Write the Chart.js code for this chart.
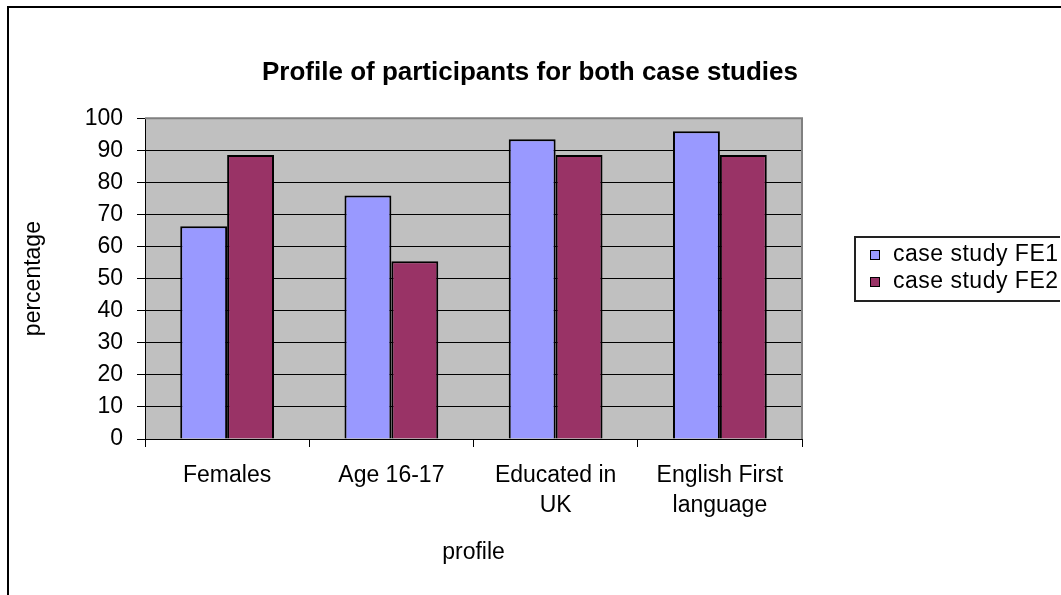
<!DOCTYPE html>
<html>
<head>
<meta charset="utf-8">
<title>Profile of participants for both case studies</title>
<script src="https://cdn.jsdelivr.net/npm/chart.js@4.4.1/dist/chart.umd.min.js"></script>
<style>
  html, body { margin: 0; padding: 0; background: #fff; overflow: hidden; }
  body { width: 1061px; height: 595px; position: relative; }
  #chart { position: absolute; left: 0; top: 0; }
  #frame { position: absolute; left: 7px; top: 6px; width: 1100px; height: 700px; border: 2px solid #000; pointer-events: none; }
</style>
</head>
<body>
<canvas id="chart" width="1060" height="640"></canvas>
<div id="frame"></div>
<script>
const chartTitle = 'Profile of participants for both case studies';
const categories = ['Females', 'Age 16-17', ['Educated in', 'UK'], ['English First', 'language']];
const seriesNames = ['case study FE1', 'case study FE2'];
const fe1Values = [66.3, 75.9, 93.4, 95.9];
const fe2Values = [88.5, 55.4, 88.5, 88.5];
const seriesColors = ['#9999FF', '#993366'];
const yMin = 0, yMax = 100, yStep = 10;
const xTitle = 'profile';
const yTitle = 'percentage';

const fontFamily = '"Liberation Sans", Arial, sans-serif';
Chart.defaults.font.family = fontFamily;
Chart.defaults.color = '#000';

// grey plot area with a grey frame on top and right
const plotBackground = {
    id: 'plotBackground',
    beforeDraw(chart) {
        const { ctx, chartArea: a } = chart;
        ctx.save();
        ctx.fillStyle = '#C0C0C0';
        ctx.fillRect(a.left, a.top, a.right - a.left, a.bottom - a.top);
        ctx.restore();
    },
    beforeDatasetsDraw(chart) {
        const { ctx, chartArea: a } = chart;
        ctx.save();
        ctx.strokeStyle = '#808080';
        ctx.lineWidth = 2;
        ctx.beginPath();
        ctx.moveTo(a.left, a.top);
        ctx.lineTo(a.right, a.top);
        ctx.lineTo(a.right, a.bottom);
        ctx.stroke();
        ctx.restore();
    }
};

// boxed legend like the spreadsheet one
const boxLegend = {
    id: 'boxLegend',
    afterDraw(chart) {
        const { ctx } = chart;
        const left = 854, top = 236, rowH = 27;
        ctx.save();
        ctx.strokeStyle = '#222';
        ctx.lineWidth = 2;
        ctx.strokeRect(left + 1, top + 1, 300, 64);
        ctx.font = '23px ' + fontFamily;
        ctx.letterSpacing = '0.5px';
        ctx.textBaseline = 'middle';
        chart.data.datasets.forEach((ds, i) => {
            const cy = top + 19 + i * rowH;
            ctx.fillStyle = ds.backgroundColor;
            ctx.fillRect(870, cy - 5, 10, 10);
            ctx.strokeStyle = '#000';
            ctx.lineWidth = 1;
            ctx.strokeRect(870.5, cy - 4.5, 9, 9);
            ctx.fillStyle = '#000';
            ctx.fillText(ds.label, 893, cy);
        });
        ctx.restore();
    }
};

new Chart(document.getElementById('chart'), {
    type: 'bar',
    data: {
        labels: categories,
        datasets: seriesNames.map((name, i) => ({
            label: name,
            data: [fe1Values, fe2Values][i],
            backgroundColor: seriesColors[i],
            borderColor: '#000',
            borderWidth: 2,
            barPercentage: 1,
            categoryPercentage: 0.571
        }))
    },
    options: {
        responsive: false,
        devicePixelRatio: 1,
        animation: false,
        layout: { padding: { left: 0, right: 0, top: 0, bottom: 61 } },
        plugins: {
            legend: { display: false },
            tooltip: { enabled: false },
            title: {
                display: true,
                text: chartTitle,
                color: '#000',
                font: { size: 26, weight: 'bold' },
                padding: { top: 57, bottom: 30 }
            }
        },
        scales: {
            x: {
                grid: { drawOnChartArea: false, drawTicks: true, tickLength: 8, color: '#000', offset: true },
                border: { color: '#000', width: 1 },
                ticks: { color: '#000', font: { size: 23, lineHeight: 1.3 }, padding: 14, maxRotation: 0, autoSkip: false },
                title: { display: true, text: xTitle, color: '#000', font: { size: 23 }, padding: { top: 0, bottom: 13 } },
                afterFit(s) { s.height = 140; }
            },
            y: {
                min: yMin,
                max: yMax,
                ticks: { stepSize: yStep, color: '#000', font: { size: 23 }, padding: 14 },
                grid: { color: '#000', lineWidth: 1, tickLength: 8 },
                border: { color: '#000', width: 1 },
                title: { display: true, text: yTitle, color: '#000', font: { size: 23 }, padding: { top: 20, bottom: 0 } },
                afterFit(s) { s.width = 145; }
            },
            spacer: {
                position: 'right',
                grid: { display: false },
                border: { display: false },
                ticks: { display: false },
                afterFit(s) { s.width = 258; }
            }
        }
    },
    plugins: [plotBackground, boxLegend]
});
</script>
</body>
</html>
